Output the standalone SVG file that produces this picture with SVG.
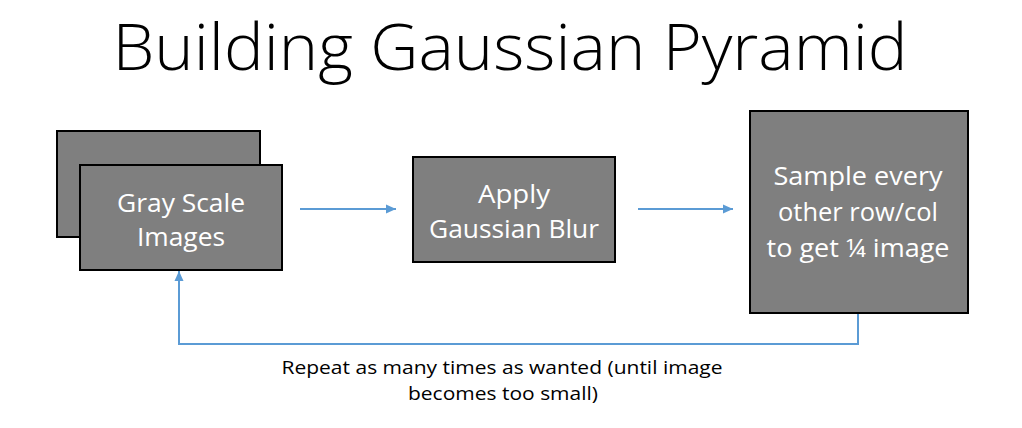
<svg xmlns="http://www.w3.org/2000/svg" width="1022" height="428" viewBox="0 0 1022 428">
<style>
.box{fill:#7f7f7f;stroke:#000;stroke-width:2}
.lbl{font-family:"Open Sans","Noto Sans","Liberation Sans",sans-serif;font-size:25px;fill:#fff;text-anchor:middle}
.title{font-family:"Open Sans","Noto Sans","Liberation Sans",sans-serif;font-weight:300;font-size:64px;fill:#000;text-anchor:middle}
.note{font-family:"Open Sans","Noto Sans","Liberation Sans",sans-serif;font-size:19px;fill:#000;text-anchor:middle}
.conn{fill:none;stroke:#5b9bd5;stroke-width:2}
</style>
<defs>
<marker id="arr" viewBox="0 0 10 10" refX="10" refY="5" markerWidth="5" markerHeight="5" orient="auto" markerUnits="strokeWidth">
<path d="M0,0.5 L10,5 L0,9.5 z" fill="#5b9bd5"/>
</marker>
</defs>
<rect width="1022" height="428" fill="#fff"/>
<text class="title" x="510" y="70" textLength="795" lengthAdjust="spacingAndGlyphs">Building Gaussian Pyramid</text>
<g id="connectors">
<line class="conn" x1="300" y1="209" x2="396" y2="209" marker-end="url(#arr)"/>
<line class="conn" x1="638" y1="209" x2="733" y2="209" marker-end="url(#arr)"/>
<polyline class="conn" points="858,313 858,344 179,344 179,271" marker-end="url(#arr)"/>
</g>
<g id="node-gray">
<rect class="box" x="57" y="131" width="203" height="106"/>
<rect class="box" x="80" y="165" width="202" height="105"/>
<text class="lbl" x="181" y="212" textLength="128" lengthAdjust="spacingAndGlyphs">Gray Scale</text>
<text class="lbl" x="181" y="246" textLength="88" lengthAdjust="spacingAndGlyphs">Images</text>
</g>
<g id="node-blur">
<rect class="box" x="413" y="157" width="202" height="105"/>
<text class="lbl" x="514" y="203" textLength="72" lengthAdjust="spacingAndGlyphs">Apply</text>
<text class="lbl" x="514" y="238" textLength="170" lengthAdjust="spacingAndGlyphs">Gaussian Blur</text>
</g>
<g id="node-sample">
<rect class="box" x="750" y="111" width="218" height="202"/>
<text class="lbl" x="858" y="185" textLength="169" lengthAdjust="spacingAndGlyphs">Sample every</text>
<text class="lbl" x="858" y="221" textLength="160" lengthAdjust="spacingAndGlyphs">other row/col</text>
<text class="lbl" x="858" y="257" textLength="183" lengthAdjust="spacingAndGlyphs">to get ¼ image</text>
</g>
<g id="note">
<text class="note" x="502" y="374" textLength="441" lengthAdjust="spacingAndGlyphs">Repeat as many times as wanted (until image</text>
<text class="note" x="503" y="400" textLength="190" lengthAdjust="spacingAndGlyphs">becomes too small)</text>
</g>
</svg>
